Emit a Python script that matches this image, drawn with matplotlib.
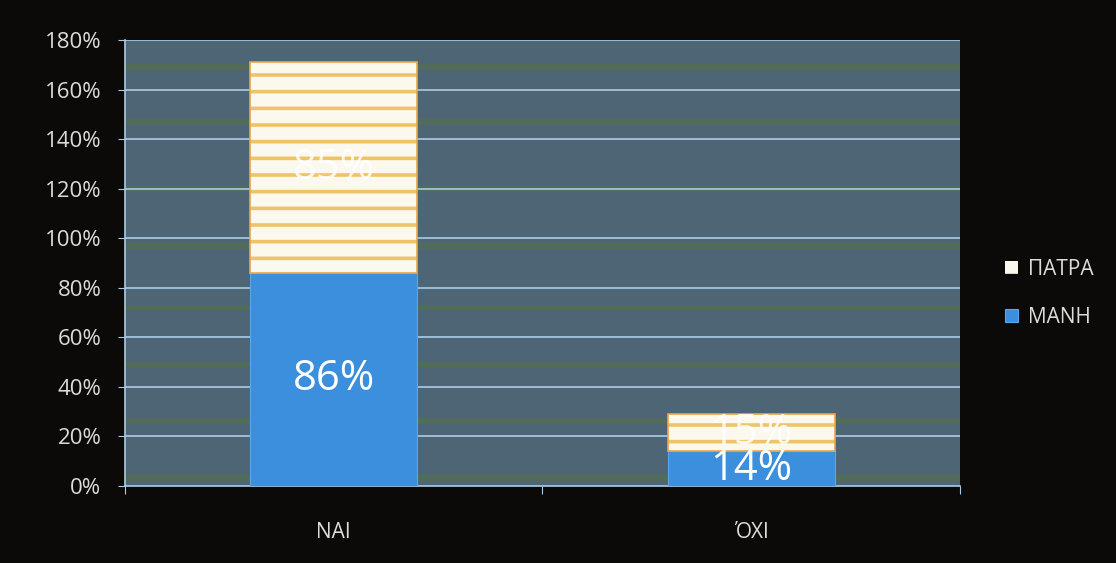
import matplotlib.pyplot as plt
import numpy as np

plt.rcParams['font.family'] = ['Open Sans', 'DejaVu Sans']

# data
categories = ['NAI', 'ΌΧΙ']
manh = [86, 14]
patra = [85, 15]
yticks = [0, 20, 40, 60, 80, 100, 120, 140, 160, 180]

BG_FIG = '#0b0a09'
BG_AX = '#4d6574'
TXT = '#dcdcdc'
BLUE = '#3b8fdc'

fig = plt.figure(figsize=(11.16, 5.63), dpi=100, facecolor=BG_FIG)
ax = fig.add_axes([0.112, 0.137, 0.748, 0.792])
ax.set_facecolor(BG_AX)

# faint greenish bands from the scan
for y in [3, 26, 49, 72, 97, 120, 147, 169]:
    ax.axhspan(y - 1.2, y + 1.2, color='#56704f', alpha=0.7, lw=0, zorder=0)

for y in yticks[1:]:
    ax.axhline(y, color='#a9cde8', lw=1.2, zorder=1)

x = np.arange(len(categories))
w = 0.4
ax.bar(x, manh, w, color=BLUE, edgecolor='#5aa6e6', lw=0.8, zorder=3, label='ΜΑΝΗ')
plt.rcParams['hatch.linewidth'] = 2.6
ax.bar(x, patra, w, bottom=manh, color='#fbf8ee', edgecolor='#efc468',
       hatch='-', lw=0, zorder=3, label='ΠΑΤΡΑ')
ax.bar(x, patra, w, bottom=manh, fill=False, edgecolor='#e9a64a', lw=1.2, zorder=4)

for i in range(len(categories)):
    ax.text(x[i], manh[i] / 2, f'{manh[i]}%', ha='center', va='center',
            color='white', fontsize=30, zorder=5)
    ax.text(x[i], manh[i] + patra[i] / 2, f'{patra[i]}%', ha='center', va='center',
            color='white', fontsize=30, alpha=0.85, zorder=5)

ax.set_xlim(-0.5, 1.5)
ax.set_ylim(0, 180)
ax.set_yticks(yticks)
ax.set_yticklabels([f'{v}%' for v in yticks], color=TXT, fontsize=16)
ax.set_xticks([-0.5, 0.5, 1.5], minor=False)
ax.set_xticklabels([])
ax.set_xticks(x, minor=True)
ax.set_xticklabels(categories, minor=True, color=TXT, fontsize=15)
ax.tick_params(axis='x', which='minor', length=0, pad=26)
ax.tick_params(axis='x', which='major', length=6, color='#a9cde8')
ax.tick_params(axis='y', length=5, color='#a9cde8', pad=12)

for s in ['top', 'right']:
    ax.spines[s].set_visible(False)
for s in ['left', 'bottom']:
    ax.spines[s].set_color('#a9cde8')
    ax.spines[s].set_linewidth(1.2)

h, l = ax.get_legend_handles_labels()
leg = fig.legend(h[::-1], l[::-1], loc='center left', bbox_to_anchor=(0.884, 0.479),
                 frameon=False, fontsize=15, labelcolor=TXT, handlelength=0.6,
                 handleheight=0.6, labelspacing=1.3, handletextpad=0.5)

fig.savefig('out.png', dpi=100, facecolor=BG_FIG)
